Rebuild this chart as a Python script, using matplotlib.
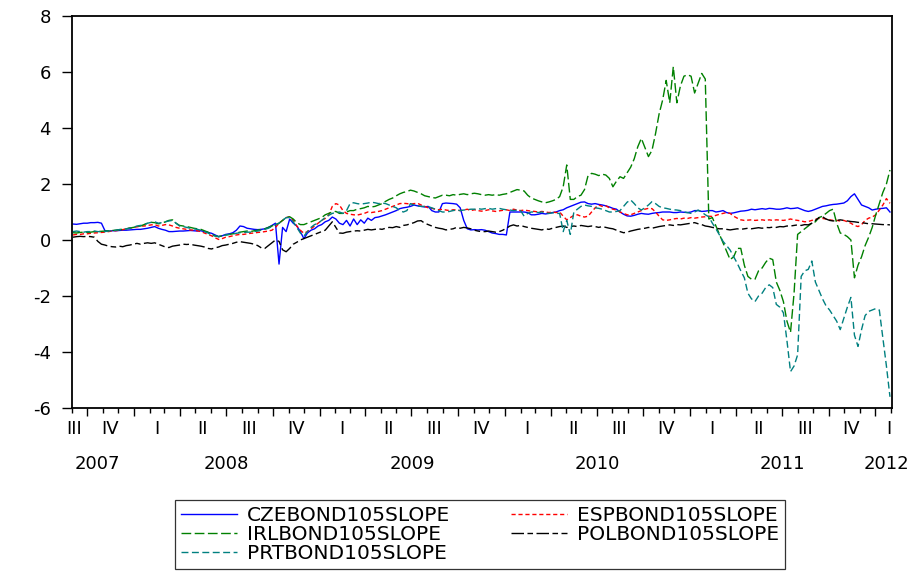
import matplotlib
matplotlib.use("Agg")
import matplotlib.pyplot as plt
import matplotlib.dates as mdates
import pandas as pd

plt.rcParams['font.family'] = ['DejaVu Sans']
plt.rcParams['lines.scale_dashes'] = False

# weekly observation dates
dates = pd.date_range('2007-09-03', periods=231, freq='7D')

cze = [0.57,0.56,0.58,0.60,0.60,0.62,0.62,0.63,0.60,0.33,
       0.32,0.33,0.33,0.34,0.35,0.35,0.36,0.37,0.38,0.38,
       0.40,0.42,0.45,0.48,0.42,0.38,0.35,0.30,0.30,0.31,
       0.32,0.32,0.33,0.34,0.33,0.32,0.33,0.30,0.27,0.24,
       0.18,0.12,0.15,0.20,0.22,0.26,0.35,0.50,0.48,0.42,
       0.40,0.38,0.37,0.38,0.40,0.45,0.52,0.60,-0.86,0.45,
       0.30,0.75,0.60,0.50,0.30,0.05,0.25,0.35,0.40,0.50,
       0.55,0.65,0.70,0.82,0.75,0.60,0.55,0.70,0.50,0.75,
       0.55,0.72,0.60,0.78,0.70,0.80,0.82,0.86,0.90,0.95,
       1.00,1.05,1.12,1.15,1.17,1.20,1.25,1.22,1.20,1.18,
       1.20,1.05,1.00,1.00,1.30,1.32,1.31,1.30,1.28,1.15,
       0.70,0.40,0.36,0.37,0.36,0.37,0.35,0.30,0.25,0.23,
       0.20,0.20,0.18,1.00,1.00,1.00,1.00,1.00,0.98,0.90,
       0.90,0.92,0.95,0.93,0.95,0.98,1.00,1.05,1.08,1.15,
       1.20,1.25,1.30,1.35,1.36,1.30,1.28,1.30,1.27,1.25,
       1.22,1.18,1.13,1.10,1.00,0.92,0.86,0.85,0.88,0.92,
       0.95,0.93,0.92,0.95,0.97,0.98,1.00,1.00,1.00,0.98,
       0.98,1.00,0.99,0.98,1.00,1.05,1.05,1.02,1.03,1.05,
       1.05,1.00,1.02,1.05,0.98,0.95,0.97,1.00,1.03,1.04,
       1.06,1.10,1.08,1.10,1.12,1.10,1.13,1.12,1.10,1.10,
       1.12,1.15,1.12,1.13,1.15,1.10,1.05,1.02,1.05,1.10,
       1.15,1.20,1.22,1.25,1.27,1.28,1.30,1.32,1.40,1.55,
       1.65,1.45,1.25,1.20,1.15,1.07,1.10,1.12,1.13,1.15,1.00]

esp = [0.18,0.20,0.20,0.22,0.22,0.24,0.25,0.26,0.27,0.28,
       0.30,0.32,0.33,0.35,0.37,0.40,0.42,0.45,0.47,0.50,
       0.50,0.52,0.54,0.55,0.50,0.52,0.55,0.54,0.50,0.45,
       0.42,0.40,0.38,0.36,0.35,0.33,0.30,0.25,0.20,0.15,
       0.08,0.02,0.05,0.10,0.12,0.15,0.18,0.20,0.20,0.22,
       0.24,0.25,0.27,0.28,0.30,0.32,0.35,0.45,0.60,0.70,
       0.80,0.83,0.70,0.50,0.35,0.24,0.30,0.40,0.50,0.60,
       0.70,0.77,0.90,1.20,1.30,1.25,1.05,0.95,0.92,0.90,
       0.89,0.92,0.95,1.00,0.98,1.00,1.02,1.05,1.10,1.15,
       1.20,1.25,1.30,1.31,1.30,1.28,1.30,1.31,1.25,1.20,
       1.15,1.13,1.10,1.08,1.10,1.07,1.05,1.08,1.07,1.05,
       1.07,1.10,1.05,1.08,1.05,1.03,1.05,1.08,1.04,1.02,
       1.04,1.06,1.08,1.05,1.10,1.07,1.05,1.07,1.05,1.03,
       1.02,1.00,1.02,1.00,0.98,1.00,0.98,1.00,0.85,0.72,
       0.80,0.88,0.90,0.85,0.82,0.85,1.00,1.15,1.25,1.20,
       1.22,1.15,1.10,1.07,1.00,0.95,0.90,0.90,0.95,1.00,
       1.05,1.10,1.13,1.12,1.00,0.85,0.72,0.70,0.72,0.75,
       0.77,0.75,0.78,0.77,0.80,0.78,0.80,0.82,0.83,0.85,
       0.84,0.88,0.92,0.95,0.98,0.95,0.85,0.78,0.72,0.70,
       0.71,0.72,0.70,0.71,0.72,0.70,0.72,0.70,0.72,0.71,
       0.70,0.72,0.75,0.72,0.70,0.68,0.65,0.66,0.70,0.74,
       0.77,0.77,0.75,0.72,0.70,0.70,0.68,0.70,0.65,0.60,
       0.52,0.48,0.55,0.70,0.78,0.82,0.90,1.07,1.25,1.48,1.31]

irl = [0.26,0.25,0.27,0.28,0.27,0.28,0.30,0.30,0.31,0.32,
       0.33,0.34,0.35,0.37,0.38,0.40,0.43,0.45,0.48,0.50,
       0.55,0.60,0.63,0.62,0.58,0.60,0.65,0.70,0.72,0.60,
       0.52,0.50,0.48,0.45,0.42,0.40,0.38,0.33,0.28,0.20,
       0.15,0.12,0.15,0.18,0.20,0.22,0.25,0.28,0.30,0.32,
       0.30,0.33,0.35,0.38,0.40,0.45,0.50,0.55,0.60,0.70,
       0.80,0.83,0.75,0.62,0.55,0.55,0.60,0.65,0.70,0.75,
       0.80,0.90,0.95,1.00,1.02,0.95,0.95,1.00,1.05,1.05,
       1.10,1.12,1.15,1.20,1.18,1.20,1.25,1.30,1.38,1.45,
       1.50,1.58,1.65,1.70,1.73,1.78,1.75,1.70,1.65,1.58,
       1.55,1.52,1.50,1.55,1.60,1.60,1.58,1.62,1.60,1.63,
       1.65,1.62,1.65,1.67,1.65,1.62,1.60,1.62,1.60,1.62,
       1.60,1.63,1.65,1.70,1.75,1.80,1.78,1.75,1.60,1.50,
       1.45,1.40,1.36,1.33,1.36,1.40,1.45,1.55,1.90,2.68,
       1.45,1.45,1.55,1.60,1.80,2.30,2.38,2.35,2.30,2.35,
       2.32,2.20,1.90,2.10,2.26,2.20,2.40,2.60,2.90,3.33,
       3.63,3.30,2.98,3.20,3.80,4.50,5.00,5.70,4.90,6.19,
       4.90,5.50,5.85,5.90,5.85,5.25,5.60,5.95,5.75,0.75,
       0.80,0.50,0.20,-0.10,-0.40,-0.70,-0.60,-0.30,-0.30,-0.90,
       -1.30,-1.40,-1.40,-1.10,-1.00,-0.80,-0.65,-0.70,-1.50,-1.80,
       -2.20,-2.90,-3.30,-1.90,0.20,0.30,0.40,0.50,0.60,0.65,
       0.80,0.85,0.95,1.05,1.10,0.60,0.25,0.20,0.12,0.00,
       -1.35,-0.90,-0.60,-0.20,0.10,0.45,0.90,1.30,1.70,2.00,2.50]

pol = [0.10,0.12,0.13,0.12,0.13,0.12,0.10,-0.05,-0.15,-0.18,
       -0.22,-0.24,-0.25,-0.22,-0.24,-0.20,-0.18,-0.15,-0.12,-0.15,
       -0.12,-0.10,-0.12,-0.10,-0.15,-0.20,-0.25,-0.27,-0.22,-0.20,
       -0.18,-0.15,-0.16,-0.15,-0.18,-0.20,-0.22,-0.25,-0.30,-0.32,
       -0.28,-0.25,-0.20,-0.18,-0.15,-0.12,-0.08,-0.06,-0.08,-0.10,
       -0.12,-0.15,-0.20,-0.28,-0.30,-0.20,-0.10,0.00,-0.05,-0.35,
       -0.42,-0.30,-0.15,-0.08,0.00,0.05,0.10,0.15,0.20,0.25,
       0.30,0.35,0.50,0.65,0.45,0.25,0.24,0.28,0.30,0.32,
       0.33,0.32,0.35,0.38,0.36,0.38,0.40,0.38,0.42,0.45,
       0.44,0.48,0.45,0.52,0.54,0.58,0.62,0.68,0.69,0.60,
       0.55,0.50,0.45,0.42,0.40,0.36,0.38,0.40,0.45,0.42,
       0.45,0.43,0.40,0.35,0.32,0.30,0.30,0.32,0.30,0.28,
       0.30,0.35,0.42,0.50,0.54,0.50,0.52,0.48,0.45,0.42,
       0.40,0.38,0.36,0.40,0.38,0.42,0.45,0.48,0.50,0.45,
       0.48,0.50,0.48,0.52,0.50,0.48,0.50,0.48,0.45,0.48,
       0.45,0.42,0.40,0.35,0.30,0.26,0.28,0.32,0.35,0.38,
       0.40,0.42,0.45,0.42,0.45,0.48,0.50,0.52,0.54,0.52,
       0.55,0.54,0.56,0.58,0.60,0.62,0.58,0.55,0.50,0.48,
       0.45,0.42,0.40,0.40,0.38,0.36,0.38,0.40,0.38,0.40,
       0.42,0.40,0.42,0.44,0.42,0.45,0.44,0.46,0.45,0.48,
       0.47,0.50,0.50,0.52,0.54,0.52,0.55,0.54,0.60,0.70,
       0.80,0.83,0.75,0.70,0.68,0.70,0.72,0.70,0.68,0.66,
       0.65,0.63,0.62,0.60,0.58,0.58,0.57,0.56,0.55,0.55,0.54]

prt = [0.30,0.32,0.30,0.28,0.30,0.30,0.32,0.30,0.30,0.30,
       0.32,0.33,0.35,0.37,0.38,0.40,0.42,0.45,0.50,0.52,
       0.55,0.60,0.63,0.65,0.60,0.62,0.65,0.68,0.70,0.60,
       0.50,0.48,0.45,0.42,0.40,0.38,0.35,0.30,0.25,0.18,
       0.14,0.12,0.15,0.18,0.20,0.22,0.24,0.26,0.27,0.28,
       0.28,0.30,0.32,0.35,0.38,0.42,0.48,0.55,0.60,0.70,
       0.80,0.80,0.65,0.45,0.25,0.14,0.30,0.45,0.55,0.60,
       0.70,0.80,0.88,0.95,0.98,1.00,0.95,1.05,1.30,1.33,
       1.30,1.28,1.30,1.32,1.35,1.33,1.30,1.32,1.30,1.25,
       1.20,1.15,1.05,1.00,1.05,1.30,1.25,1.22,1.20,1.20,
       1.19,1.15,1.10,1.05,1.00,1.00,1.02,1.05,1.07,1.05,
       1.07,1.08,1.10,1.10,1.12,1.10,1.12,1.13,1.10,1.12,
       1.13,1.10,1.08,1.07,1.05,1.07,1.05,0.85,0.95,1.00,
       1.00,0.98,1.00,0.97,0.95,0.97,0.95,0.95,0.30,0.70,
       0.20,1.00,1.10,1.20,1.25,1.22,1.20,1.15,1.13,1.10,
       1.05,1.00,1.00,1.02,1.05,1.20,1.35,1.43,1.30,1.15,
       1.07,1.15,1.25,1.37,1.30,1.20,1.15,1.13,1.10,1.08,
       1.07,1.05,1.00,0.98,0.95,1.00,1.07,1.00,0.90,0.83,
       0.60,0.40,0.18,-0.05,-0.20,-0.36,-0.60,-0.83,-1.10,-1.35,
       -1.90,-2.10,-2.20,-2.00,-1.90,-1.70,-1.60,-1.70,-2.30,-2.40,
       -2.60,-3.60,-4.70,-4.50,-4.10,-1.30,-1.10,-1.05,-0.75,-1.50,
       -1.80,-2.10,-2.35,-2.50,-2.70,-2.90,-3.20,-2.80,-2.40,-2.05,
       -3.40,-3.80,-3.20,-2.70,-2.55,-2.50,-2.45,-2.50,-3.50,-4.50,-5.60]

names = ['CZEBOND105SLOPE', 'ESPBOND105SLOPE', 'IRLBOND105SLOPE',
         'POLBOND105SLOPE', 'PRTBOND105SLOPE']
yticks = [-6, -4, -2, 0, 2, 4, 6, 8]
quarter_labels = ['III', 'IV', 'I', 'II', 'III', 'IV', 'I', 'II', 'III', 'IV',
                  'I', 'II', 'III', 'IV', 'I', 'II', 'III', 'IV', 'I']
quarter_label_dates = ['2007-09-05', '2007-11-15', '2008-02-15', '2008-05-16',
                       '2008-08-15', '2008-11-15', '2009-02-14', '2009-05-16',
                       '2009-08-15', '2009-11-15', '2010-02-14', '2010-05-16',
                       '2010-08-15', '2010-11-15', '2011-02-14', '2011-05-16',
                       '2011-08-15', '2011-11-15', '2012-01-28']
year_labels = ['2007', '2008', '2009', '2010', '2011', '2012']
year_label_dates = ['2007-10-21', '2008-07-01', '2009-07-02', '2010-07-02',
                    '2011-07-02', '2012-01-24']

W, H = 917, 571
fig = plt.figure(figsize=(W / 100, H / 100), dpi=100)
ax = fig.add_axes([72 / W, 1 - 408 / H, (892 - 72) / W, (408 - 16) / H])

series = [cze, esp, irl, pol, prt]
colors = ['#0000ff', '#ff0000', '#008000', '#000000', '#008080']
dash_styles = [None, (0, (3, 2)), (0, (7, 2.5)), (0, (9, 2.5, 4, 2.5)), (0, (5, 2.5))]
handles = []
for vals, name, col, ds in zip(series, names, colors, dash_styles):
    ls = '-' if ds is None else ds
    h, = ax.plot(dates, vals, color=col, lw=1.0, linestyle=ls, label=name)
    handles.append(h)

ax.set_xlim(pd.Timestamp('2007-09-01'), pd.Timestamp('2012-02-03'))
ax.set_ylim(-6, 8)
ax.set_yticks(yticks)
ax.set_yticklabels([str(v) for v in yticks])

ax.xaxis.set_major_locator(mdates.MonthLocator(bymonth=[1, 4, 7, 10]))
ax.xaxis.set_minor_locator(mdates.MonthLocator())
ax.xaxis.set_major_formatter(plt.NullFormatter())
ax.tick_params(axis='x', which='major', direction='out', length=5.8, width=1.0)
ax.tick_params(axis='x', which='minor', direction='out', length=3.6, width=1.0)
ax.tick_params(axis='y', direction='out', length=7.2, width=1.0, pad=8, labelsize=13)

for s in ax.spines.values():
    s.set_linewidth(1.3)
    s.set_color('black')

tr = ax.get_xaxis_transform()
for lab, d in zip(quarter_labels, quarter_label_dates):
    ax.text(pd.Timestamp(d), -21 / 392, lab, transform=tr, ha='center', va='center', fontsize=13)
for lab, d in zip(year_labels, year_label_dates):
    ax.text(pd.Timestamp(d), -56 / 392, lab, transform=tr, ha='center', va='center', fontsize=13)

order = [0, 2, 4, 1, 3]
leg = fig.legend([handles[i] for i in order], [names[i] for i in order],
                 loc='upper center', bbox_to_anchor=(480 / W, 1 - 500 / H), ncol=2,
                 fontsize=14.5, frameon=True, fancybox=False, edgecolor='black',
                 handlelength=2.8, handletextpad=0.5, columnspacing=3.0,
                 labelspacing=0.0, borderpad=0.3, borderaxespad=0)
leg.get_frame().set_linewidth(0.9)

fig.savefig('out.png', dpi=100)
